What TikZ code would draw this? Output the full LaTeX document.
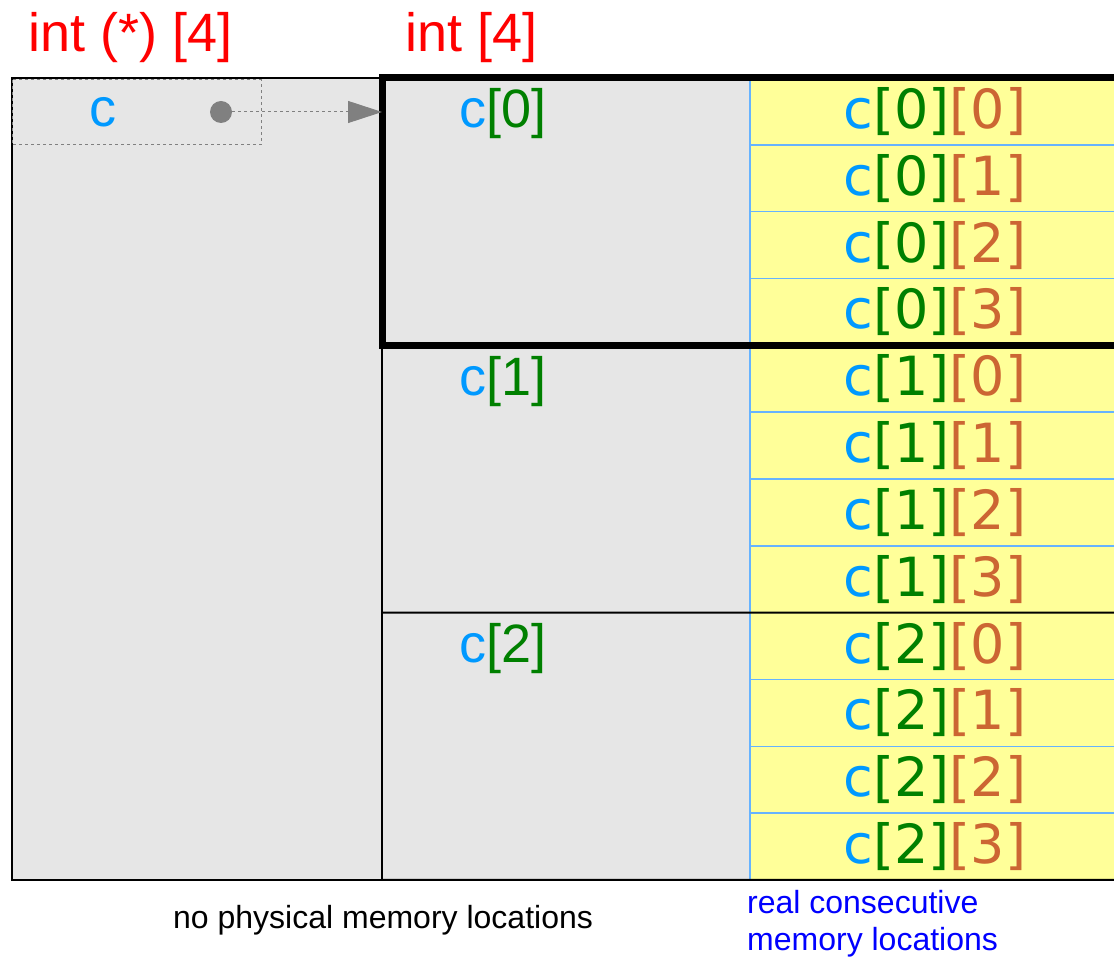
\documentclass[tikz,border=0pt]{standalone}
\usepackage{fontspec}
\setmainfont{Liberation Sans}
\newfontfamily\dejavu{DejaVu Sans}
\usetikzlibrary{arrows.meta}
\definecolor{vname}{HTML}{0099FF}
\definecolor{idxa}{HTML}{008000}
\definecolor{idxb}{HTML}{CC6633}
\definecolor{gelb}{HTML}{FFFF99}
\definecolor{grau}{HTML}{E6E6E6}
\definecolor{hgrau}{HTML}{808080}
\definecolor{trenn}{HTML}{66B3FF}
\newcommand{\gross}{\fontsize{54}{62}\selectfont}
\newcommand{\klein}{\fontsize{32}{37}\selectfont}
\newcommand{\varc}[1]{\textcolor{vname}{c}\textcolor{idxa}{[#1]}}
\newcommand{\elem}[2]{{\dejavu\textcolor{vname}{c}\textcolor{idxa}{[#1]}\textcolor{idxb}{[#2]}}}
\tikzset{
  titel/.style={text=red,font=\gross,inner sep=0pt},
  vtext/.style={font=\gross,inner sep=0pt},
  feld/.style={fill=grau,draw=black,line width=2pt,inner sep=0pt,outer sep=0pt},
  block/.style={fill=grau,inner sep=0pt,outer sep=0pt,minimum width=368pt,minimum height=267.33pt},
  zelle/.style={fill=gelb,draw=trenn,line width=1.5pt,inner sep=0pt,outer sep=0pt,
    minimum width=370pt,minimum height=66.83pt,font=\gross},
  linie/.style={black,line width=2pt},
  dick/.style={black,line width=7pt},
  hilf/.style={hgrau,dashed,line width=1pt},
  zeig/.style={-{Triangle[length=34pt,width=22pt]},hgrau,dashed,line width=1pt},
  punktst/.style={circle,fill=hgrau,inner sep=0pt,minimum size=22pt},
  notiz/.style={font=\klein,inner sep=0pt,align=left},
}
\begin{document}
\begin{tikzpicture}[x=1pt,y=-1pt]
  \useasboundingbox (0,0) rectangle (1114,957);
  % titles
  \node[titel,anchor=base west] (t1) at (28,52) {int (*) [4]};
  \node[titel,anchor=base west] (t2) at (405,52) {int [4]};
  % pointer c
  \node[feld,anchor=north west,minimum width=370pt,minimum height=802pt] (p) at (12,78) {};
  \draw[hilf] (12,80) rectangle (261,145);
  \node[vtext,text=vname,anchor=base] (c) at (103,127) {c};
  % rows and elements
  \foreach \i in {0,1,2}{
    \node[block,anchor=north west] (z\i) at (382,{78+267.33*\i}) {};
    \node[vtext,anchor=base] (n\i) at (503,{128+267.33*\i}) {\varc{\i}};
    \foreach \j in {0,...,3}
      \node[zelle,anchor=north west] (e\i\j) at (750,{78+66.83*(4*\i+\j)}) {\elem{\i}{\j}};
  }
  \draw[linie] (z0.north west) -- (z2.south west);
  \draw[linie] (z1.south west) -- (e13.south east);
  \draw[linie] (z2.south west) -- (e23.south east);
  \draw[dick] (z0.north west) rectangle (e03.south east);
  % arrow
  \node[punktst] (dot) at (221,112) {};
  \draw[zeig] (dot) -- (dot -| z0.west);
  % notes
  \node[notiz,anchor=base west] (no) at (173,928) {no physical memory locations};
  \node[notiz,text=blue,anchor=base west] (re) at (747,950) {real consecutive\\memory locations};
\end{tikzpicture}
\end{document}
